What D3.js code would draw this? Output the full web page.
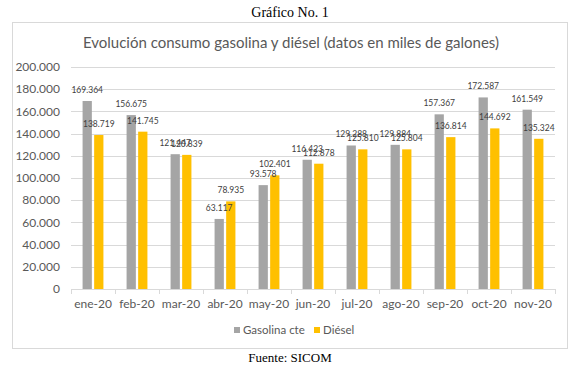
<!DOCTYPE html>
<meta charset="utf-8">
<script src="https://d3js.org/d3.v7.min.js"></script>
<style>
  body { margin: 0; background: #fff; }
</style>
<div id="chart"></div>
<script>

var meses = ["ene-20", "feb-20", "mar-20", "abr-20", "may-20", "jun-20", "jul-20", "ago-20", "sep-20", "oct-20", "nov-20"]
var gasolina = [169364, 156675, 121447, 63117, 93578, 116423, 129288, 129884, 157367, 172587, 161549]
var diesel = [138719, 141745, 120839, 78935, 102401, 112878, 125810, 125804, 136814, 144692, 135324]
var series = ["Gasolina cte", "Diésel"]
var yTicks = [0, 20000, 40000, 60000, 80000, 100000, 120000, 140000, 160000, 180000, 200000]

var width = 580, height = 371
var plotL = 71, plotR = 555, plotT = 67, plotB = 289
var font = "Lato"

var fmt = function(v) { return d3.format(",")(v).replace(/,/g, ".") }

var svg = d3.select("#chart").append("svg")
    .attr("width", width)
    .attr("height", height)

var color = d3.scaleOrdinal().domain(series).range(["#A5A5A5", "#FFC000"])

// heading and source (outside the box)
svg.append("text")
    .attr("x", 290).attr("y", 17)
    .attr("text-anchor", "middle")
    .style("font-family", "Liberation Serif")
    .style("font-size", "14px")
    .text("Gráfico No. 1")

svg.append("rect")
    .attr("x", 12.5).attr("y", 22.5)
    .attr("width", 555).attr("height", 326)
    .attr("fill", "white")
    .attr("stroke", "#d9d9d9")

svg.append("text")
    .attr("x", 291).attr("y", 48)
    .attr("text-anchor", "middle")
    .style("font-family", font)
    .style("font-size", "15px")
    .style("fill", "#595959")
    .text("Evolución consumo gasolina y diésel (datos en miles de galones)")

svg.append("text")
    .attr("x", 290).attr("y", 362)
    .attr("text-anchor", "middle")
    .style("font-family", "Liberation Serif")
    .style("font-size", "13px")
    .text("Fuente: SICOM")

var x = d3.scaleBand().domain(meses).range([plotL, plotR])
var xInner = d3.scaleBand().domain(series).range([0, x.bandwidth()]).paddingInner(0.2).paddingOuter(1.0)
var y = d3.scaleLinear().domain([0, 200000]).range([plotB, plotT])

// grid
svg.selectAll(".grid")
  .data(yTicks.slice(1))
  .enter()
  .append("line")
    .attr("x1", plotL).attr("x2", plotR)
    .attr("y1", function(d){ return Math.round(y(d)) + 0.5 })
    .attr("y2", function(d){ return Math.round(y(d)) + 0.5 })
    .attr("stroke", "#d9d9d9")

svg.selectAll(".ylab")
  .data(yTicks)
  .enter()
  .append("text")
    .attr("x", 60)
    .attr("y", function(d){ return y(d) })
    .attr("dy", "0.35em")
    .attr("text-anchor", "end")
    .style("font-family", font)
    .style("font-size", "12px")
    .style("fill", "#595959")
    .text(function(d){ return fmt(d) })

// bars
var rows = meses.map(function(m, i) {
  return { mes: m, vals: [{ key: series[0], value: gasolina[i] }, { key: series[1], value: diesel[i] }] }
})

var groups = svg.selectAll(".grp")
  .data(rows)
  .enter()
  .append("g")
    .attr("transform", function(d){ return "translate(" + x(d.mes) + ",0)" })

groups.selectAll("rect")
  .data(function(d){ return d.vals })
  .enter()
  .append("rect")
    .attr("x", function(d){ return xInner(d.key) })
    .attr("width", xInner.bandwidth())
    .attr("y", function(d){ return y(d.value) })
    .attr("height", function(d){ return y(0) - y(d.value) })
    .attr("fill", function(d){ return color(d.key) })

groups.selectAll("text")
  .data(function(d){ return d.vals })
  .enter()
  .append("text")
    .attr("x", function(d){ return xInner(d.key) + xInner.bandwidth() / 2 })
    .attr("y", function(d){ return y(d.value) - 8 })
    .attr("text-anchor", "middle")
    .style("font-family", font)
    .style("font-size", "8.5px")
    .style("fill", "#404040")
    .text(function(d){ return fmt(d.value) })

// x axis
svg.append("line")
    .attr("x1", plotL).attr("x2", plotR)
    .attr("y1", plotB + 0.5).attr("y2", plotB + 0.5)
    .attr("stroke", "#d9d9d9")

svg.selectAll(".tick")
  .data(meses.concat(["end"]))
  .enter()
  .append("line")
    .attr("x1", function(d, i){ return Math.round(plotL + i * x.step()) + 0.5 })
    .attr("x2", function(d, i){ return Math.round(plotL + i * x.step()) + 0.5 })
    .attr("y1", plotB).attr("y2", plotB + 5)
    .attr("stroke", "#d9d9d9")

svg.selectAll(".xlab")
  .data(meses)
  .enter()
  .append("text")
    .attr("x", function(d){ return x(d) + x.bandwidth() / 2 })
    .attr("y", 304)
    .attr("dy", "0.35em")
    .attr("text-anchor", "middle")
    .style("font-family", font)
    .style("font-size", "12px")
    .style("fill", "#595959")
    .text(function(d){ return d })

// legend
var legX = [234, 314]
series.forEach(function(s, i) {
  svg.append("rect")
      .attr("x", legX[i]).attr("y", 327)
      .attr("width", 6).attr("height", 6)
      .attr("fill", color(s))
  svg.append("text")
      .attr("x", legX[i] + 9).attr("y", 330)
      .attr("dy", "0.35em")
      .style("font-family", font)
      .style("font-size", "11.5px")
      .style("fill", "#595959")
      .text(s)
})

</script>
